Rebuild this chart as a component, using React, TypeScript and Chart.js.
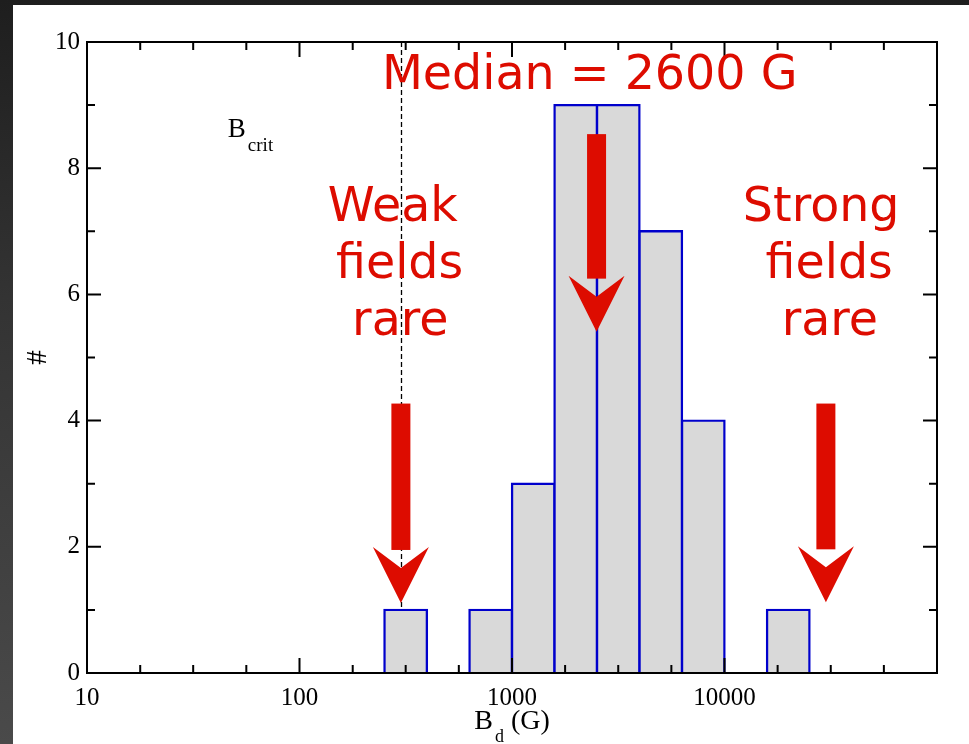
import React, { useEffect, useRef } from "react";
import { Chart, registerables } from "chart.js";

Chart.register(...registerables);

// ---- data ----
const binCenters = [316, 794, 1259, 1995, 3162, 5012, 7943, 19953];
const binCounts = [1, 1, 3, 9, 9, 7, 4, 1];
const xLabelTicks = [10, 100, 1000, 10000];
const xMajorTicks = [10, 100, 1000, 10000, 100000];
const xMinorTicks = [17.8, 31.6, 56.2, 178, 316, 562, 1778, 3162, 5623, 17783, 31623, 56234];
const yMajorTicks = [0, 2, 4, 6, 8, 10];
const yMinorTicks = [1, 3, 5, 7, 9];
const bCrit = 300;
const bCritLineBottom = 1;
const arrowX = [300, 2500, 30000];
const arrowTop = [4.27, 8.54, 4.27];
const arrowTip = [1.11, 5.41, 1.12];
const medianLabel = "Median = 2600 G";
const medianPos = [2320, 9.25];
const weakLines = ["Weak", "fields", "rare"];
const weakX = [275, 296, 298];
const strongLines = ["Strong", "fields", "rare"];
const strongX = [28500, 31100, 31300];
const lineY = [7.16, 6.26, 5.36];
const bcritPos = [46, 8.49];
const xTitleMain = "B";
const xTitleSub = "d";
const xTitleRest = " (G)";
const yTitle = "#";

const RED = "rgb(221,12,0)";
const SERIF = '"Liberation Serif", "DejaVu Serif", serif';
const SANS = '"DejaVu Sans", sans-serif';

const decor = {
  id: "decor",
  beforeDatasetsDraw(chart: any) {
    const { ctx, scales } = chart;
    const x = scales.x, y = scales.y;
    ctx.save();
    ctx.strokeStyle = "#000";
    ctx.lineWidth = 1.3;
    ctx.setLineDash([5, 3]);
    const px = Math.round(x.getPixelForValue(bCrit)) + 0.5;
    ctx.beginPath();
    ctx.moveTo(px, y.getPixelForValue(10));
    ctx.lineTo(px, y.getPixelForValue(bCritLineBottom));
    ctx.stroke();
    ctx.restore();
  },
  afterDatasetsDraw(chart: any) {
    const { ctx, scales, chartArea } = chart;
    const x = scales.x, y = scales.y;
    const { left, right, top, bottom } = chartArea;
    ctx.save();
    // frame
    ctx.strokeStyle = "#000";
    ctx.lineWidth = 2;
    ctx.setLineDash([]);
    ctx.strokeRect(left, top, right - left, bottom - top);
    // ticks
    const xt = (v: number, len: number) => {
      const p = x.getPixelForValue(v);
      ctx.beginPath();
      ctx.moveTo(p, bottom);
      ctx.lineTo(p, bottom - len);
      ctx.moveTo(p, top);
      ctx.lineTo(p, top + len);
      ctx.stroke();
    };
    const yt = (v: number, len: number) => {
      const p = y.getPixelForValue(v);
      ctx.beginPath();
      ctx.moveTo(left, p);
      ctx.lineTo(left + len, p);
      ctx.moveTo(right, p);
      ctx.lineTo(right - len, p);
      ctx.stroke();
    };
    xMajorTicks.forEach((v) => xt(v, 15));
    xMinorTicks.forEach((v) => xt(v, 8));
    yMajorTicks.forEach((v) => yt(v, 14));
    yMinorTicks.forEach((v) => yt(v, 8));

    // arrows
    ctx.fillStyle = RED;
    arrowX.forEach((ax, i) => {
      const cx = x.getPixelForValue(ax);
      const topY = y.getPixelForValue(arrowTop[i]);
      const tipY = y.getPixelForValue(arrowTip[i]);
      ctx.fillRect(cx - 9.5, topY, 19, tipY - 53 - topY);
      ctx.beginPath();
      ctx.moveTo(cx, tipY);
      ctx.lineTo(cx - 28, tipY - 56);
      ctx.lineTo(cx, tipY - 35);
      ctx.lineTo(cx + 28, tipY - 56);
      ctx.closePath();
      ctx.fill();
    });

    // red texts
    ctx.fillStyle = RED;
    ctx.font = `47.5px ${SANS}`;
    ctx.textAlign = "center";
    ctx.textBaseline = "alphabetic";
    ctx.fillText(medianLabel, x.getPixelForValue(medianPos[0]), y.getPixelForValue(medianPos[1]));
    weakLines.forEach((t, i) => ctx.fillText(t, x.getPixelForValue(weakX[i]), y.getPixelForValue(lineY[i])));
    strongLines.forEach((t, i) => ctx.fillText(t, x.getPixelForValue(strongX[i]), y.getPixelForValue(lineY[i])));

    // B_crit
    ctx.fillStyle = "#000";
    ctx.textAlign = "left";
    const bx = x.getPixelForValue(bcritPos[0]);
    const by = y.getPixelForValue(bcritPos[1]);
    ctx.font = `27px ${SERIF}`;
    ctx.fillText("B", bx, by);
    const bw = ctx.measureText("B").width;
    ctx.font = `19px ${SERIF}`;
    ctx.fillText("crit", bx + bw + 2, by + 14);

    // x title
    const cxm = (left + right) / 2;
    ctx.font = `28px ${SERIF}`;
    const wB = ctx.measureText(xTitleMain).width;
    const wR = ctx.measureText(xTitleRest).width;
    ctx.font = `18px ${SERIF}`;
    const wd = ctx.measureText(xTitleSub).width;
    const total = wB + 2 + wd + wR;
    let sx = cxm - total / 2;
    const base = bottom + 56;
    ctx.font = `28px ${SERIF}`;
    ctx.fillText(xTitleMain, sx, base);
    sx += wB + 2;
    ctx.font = `18px ${SERIF}`;
    ctx.fillText(xTitleSub, sx, base + 13);
    sx += wd;
    ctx.font = `28px ${SERIF}`;
    ctx.fillText(xTitleRest, sx, base);

    // y title
    ctx.save();
    ctx.translate(25, (top + bottom) / 2);
    ctx.rotate(-Math.PI / 2);
    ctx.textAlign = "center";
    ctx.textBaseline = "middle";
    ctx.font = `29px ${SERIF}`;
    ctx.fillText(yTitle, 0, 0);
    ctx.restore();

    ctx.restore();
  },
};

export default function App() {
  const ref = useRef<HTMLCanvasElement | null>(null);
  useEffect(() => {
    const canvas = ref.current;
    if (!canvas) return;
    const chart = new Chart(canvas, {
      type: "bar",
      data: {
        datasets: [
          {
            data: binCenters.map((xv, i) => ({ x: xv, y: binCounts[i] })),
            backgroundColor: "#d9d9d9",
            borderColor: "#0000cc",
            borderWidth: 2.4,
            borderSkipped: "start",
            inflateAmount: 1.2,
            barPercentage: 1,
            categoryPercentage: 1,
          } as any,
        ],
      },
      options: {
        animation: false,
        responsive: false,
        devicePixelRatio: 1,
        events: [],
        layout: { padding: { top: 37, right: 32, left: 0, bottom: 0 } },
        plugins: {
          legend: { display: false },
          tooltip: { enabled: false },
          title: { display: false },
        },
        scales: {
          x: {
            type: "logarithmic",
            min: 10,
            max: 100000,
            offset: false,
            grid: { display: false, drawTicks: false },
            border: { display: false },
            afterBuildTicks: (s: any) => {
              s.ticks = xLabelTicks.map((v) => ({ value: v }));
            },
            afterFit: (s: any) => {
              s.height = 71;
            },
            ticks: {
              autoSkip: false,
              maxRotation: 0,
              minRotation: 0,
              padding: 10,
              color: "#000",
              font: { family: SERIF, size: 25 },
              callback: (v: any) => String(v),
            },
          },
          y: {
            type: "linear",
            min: 0,
            max: 10,
            grid: { display: false, drawTicks: false },
            border: { display: false },
            afterBuildTicks: (s: any) => {
              s.ticks = yMajorTicks.map((v) => ({ value: v }));
            },
            afterFit: (s: any) => {
              s.width = 74;
            },
            ticks: {
              padding: 7,
              color: "#000",
              font: { family: SERIF, size: 25 },
              callback: (v: any) => String(v),
            },
          },
        } as any,
      },
      plugins: [decor],
    });
    return () => chart.destroy();
  }, []);

  return (
    <div
      style={{
        position: "absolute",
        left: 0,
        top: 0,
        width: 969,
        height: 744,
        overflow: "hidden",
        background: "linear-gradient(to bottom, #1e1e1e 0%, #333333 40%, #4a4a4a 100%)",
      }}
    >
      <div
        style={{
          position: "absolute",
          left: 13,
          top: 5,
          width: 956,
          height: 739,
          background: "#fff",
        }}
      >
        <canvas ref={ref} width={956} height={739} style={{ display: "block", width: 956, height: 739 }} />
      </div>
    </div>
  );
}
